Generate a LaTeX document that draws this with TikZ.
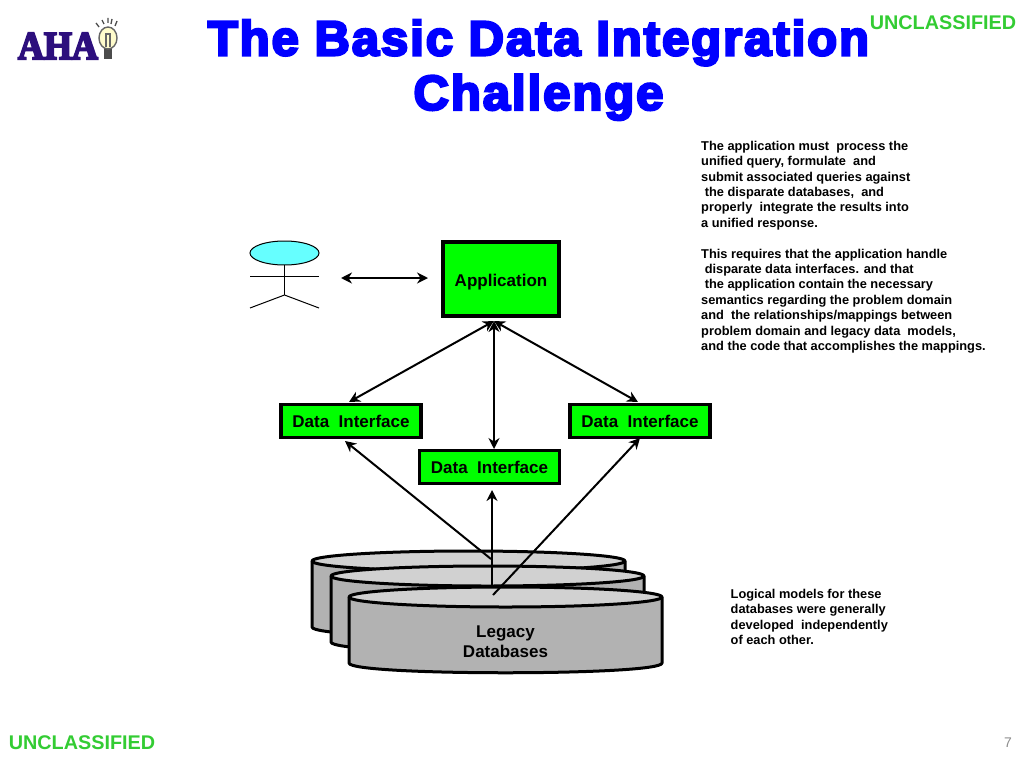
\documentclass[tikz,border=0pt]{standalone}
\usepackage{fontspec}
\setmainfont{Liberation Sans}
\newfontfamily\titlefont[BoldFont={Liberation Sans Bold},BoldFeatures={FakeBold=5},LetterSpace=4]{Liberation Sans}
\newfontfamily\logofont[BoldFont={Liberation Serif Bold},BoldFeatures={FakeBold=5,FakeStretch=0.9}]{Liberation Serif}
\usetikzlibrary{arrows.meta}
\definecolor{boxgreen}{RGB}{0,255,0}
\definecolor{bannergreen}{RGB}{51,204,51}
\definecolor{titleblue}{RGB}{0,0,255}
\definecolor{headcyan}{RGB}{102,255,255}
\definecolor{logoblue}{RGB}{45,15,125}
\tikzset{
    greenbox/.style={draw=black, line width=3.4pt, fill=boxgreen, inner sep=0pt, font=\fontsize{17}{20}\selectfont\bfseries},
    titletext/.style={align=center, inner sep=0pt, text=titleblue, font=\titlefont\fontsize{49}{54.5}\selectfont\bfseries},
    note/.style={anchor=north west, align=left, inner sep=0pt, font=\fontsize{12.8}{15.38}\selectfont\bfseries},
    banner/.style={inner sep=0pt, text=bannergreen, font=\fontsize{19.8}{24}\selectfont\bfseries},
    link/.style={line width=2pt, {Stealth[length=11pt,width=11pt]}-{Stealth[length=11pt,width=11pt]}},
    feed/.style={line width=2pt, -{Stealth[length=11pt,width=11pt]}},
    figure/.style={line width=1pt},
    disk/.style={draw=black, line width=3pt, line join=round},
}
\begin{document}
\begin{tikzpicture}[x=1pt, y=-1pt]
    \useasboundingbox (0,0) rectangle (1024,768);
    % Logo
    \node[inner sep=0pt, text=logoblue, font=\logofont\fontsize{40}{40}\selectfont\bfseries] (logo) at (58,46) {AHA};
    \fill[black!70] (104,47) rectangle (112,59);
    \draw[line width=1.4pt, fill=yellow!20!white, draw=black!60] (108,38) ellipse [x radius=9, y radius=11];
    \draw[line width=1.2pt, black!60] (106,47) -- (106,34) -- (110,34) -- (110,47);
    \draw[line width=1.3pt, black!70] (96,23) -- (99,27) (102,20) -- (104,24) (108,18) -- (108,23) (112,19) -- (111,24) (117,21) -- (115,26);
    % Title and banners
    \node[titletext] (title) at (538.5,70) {The Basic Data Integration\\Challenge};
    \node[banner] (topbanner) at (943,23) {UNCLASSIFIED};
    \node[banner] (botbanner) at (82,743) {UNCLASSIFIED};
    \node[inner sep=0pt, text=black!45, font=\fontsize{14}{16}\selectfont] (pagenum) at (1008,743) {7};
    % Right hand notes
    \node[note] (noteapp) at (701,141) {The application must\ \ process the\\unified query, formulate\ \ and\\submit associated queries against\\\ the disparate databases,\ \ and\\properly\ \ integrate the results into\\a unified response.\\[15.38pt]This requires that the application handle\\\ disparate data interfaces. and that\\\ the application contain the necessary\\semantics regarding the problem domain\\and\ \ the relationships/mappings between\\problem domain and legacy data\ \ models,\\and the code that accomplishes the mappings.};
    \node[note] (notedb) at (730.5,589) {Logical models for these\\databases were generally\\developed\ \ independently\\of each other.};
    % Stick figure
    \draw[figure, fill=headcyan] (284.5,253) ellipse [x radius=34.5, y radius=12];
    \draw[figure] (284.5,265) -- (284.5,295);
    \draw[figure] (250,276) -- (319,276);
    \draw[figure] (250,308) -- (284.5,295) -- (319,308);
    % Boxes
    \node[greenbox, minimum width=116pt, minimum height=74pt, text height=15pt, text depth=0pt] (app) at (501,279) {Application};
    \node[greenbox, minimum width=140pt, minimum height=33pt] (dileft) at (351,421) {Data\ \ Interface};
    \node[greenbox, minimum width=140pt, minimum height=33pt] (dimid) at (489.5,467) {Data\ \ Interface};
    \node[greenbox, minimum width=140pt, minimum height=33pt] (diright) at (640,421) {Data\ \ Interface};
    % Legacy databases, back to front
    \foreach \cx/\cy in {468.5/561, 487.5/576, 505.5/597} {
        \filldraw[disk, fill=black!30] (\cx-156.5,\cy) -- (\cx-156.5,\cy+66) .. controls (\cx-156.5,\cy+79) and (\cx+156.5,\cy+79) .. (\cx+156.5,\cy+66) -- (\cx+156.5,\cy) -- cycle;
        \filldraw[disk, fill=black!18] (\cx,\cy) ellipse [x radius=156.5, y radius=10];
    }
    \node[align=center, inner sep=0pt, font=\fontsize{17}{20}\selectfont\bfseries] (legacy) at (505.5,641.5) {Legacy\\Databases};
    % Connector ends
    \coordinate (actor) at (341,278);
    \coordinate (appto) at (428,278);
    \coordinate (appin) at (494,321);
    \coordinate (lefttop) at (349,402);
    \coordinate (midtop) at (494,449);
    \coordinate (righttop) at (638,402);
    \coordinate (leftbot) at (345,441);
    \coordinate (midbot) at (492,490);
    \coordinate (rightbot) at (640,438);
    \coordinate (dbleft) at (491,559);
    \coordinate (dbmid) at (492,585);
    \coordinate (dbright) at (493,595);
    % Connectors
    \draw[link] (actor) -- (appto);
    \draw[link] (appin) -- (lefttop);
    \draw[link] (appin) -- (midtop);
    \draw[link] (appin) -- (righttop);
    \draw[feed] (dbleft) -- (leftbot);
    \draw[feed] (dbmid) -- (midbot);
    \draw[feed] (dbright) -- (rightbot);
\end{tikzpicture}
\end{document}
